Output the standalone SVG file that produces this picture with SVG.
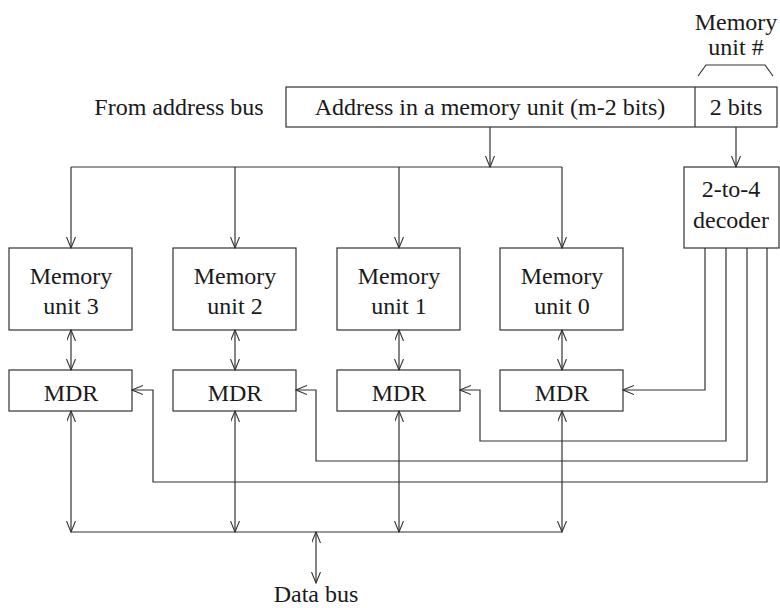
<svg xmlns="http://www.w3.org/2000/svg" width="780" height="608" viewBox="0 0 780 608">
<style>
.box{fill:#fff;stroke:#333;stroke-width:1.2}
.ln{fill:none;stroke:#333;stroke-width:1.2}
.t{font-size:24px;fill:#1a1a1a;text-anchor:middle}
</style>
<defs>
<marker id="ar" markerUnits="userSpaceOnUse" markerWidth="12" markerHeight="10" refX="11" refY="4.5" orient="auto-start-reverse">
<path d="M0,0 L11,4.5 L0,9" fill="none" stroke="#333" stroke-width="1.1"/>
</marker>
</defs>
<rect width="780" height="608" fill="#fff"/>
<g id="label-from">
<text class="t" font-family="Liberation Serif, serif" x="179" y="115">From address bus</text>
</g>
<g id="address">
<rect class="box" x="286" y="87" width="491" height="40"/>
<line class="ln" x1="695" y1="87" x2="695" y2="127"/>
<text class="t" font-family="Liberation Serif, serif" x="490" y="115">Address in a memory unit (m-2 bits)</text>
<text class="t" font-family="Liberation Serif, serif" x="736" y="115">2 bits</text>
</g>
<g id="unitnum">
<text class="t" font-family="Liberation Serif, serif" font-size="23" x="736" y="30">Memory</text>
<text class="t" font-family="Liberation Serif, serif" font-size="23" x="736" y="55">unit #</text>
<path class="ln" d="M698,76 L706,65 L765,65 L773,76"/>
</g>
<g id="decoder">
<rect class="box" x="684" y="167" width="95" height="81"/>
<text class="t" font-family="Liberation Serif, serif" x="731" y="197">2-to-4</text>
<text class="t" font-family="Liberation Serif, serif" x="731" y="228">decoder</text>
</g>
<g id="mu3"><rect class="box" x="9" y="248" width="123" height="82"/><text class="t" font-family="Liberation Serif, serif" x="71" y="284">Memory</text><text class="t" font-family="Liberation Serif, serif" x="71" y="314">unit 3</text></g>
<g id="mu2"><rect class="box" x="173" y="248" width="123" height="82"/><text class="t" font-family="Liberation Serif, serif" x="235" y="284">Memory</text><text class="t" font-family="Liberation Serif, serif" x="235" y="314">unit 2</text></g>
<g id="mu1"><rect class="box" x="337" y="248" width="123" height="82"/><text class="t" font-family="Liberation Serif, serif" x="399" y="284">Memory</text><text class="t" font-family="Liberation Serif, serif" x="399" y="314">unit 1</text></g>
<g id="mu0"><rect class="box" x="500" y="248" width="123" height="82"/><text class="t" font-family="Liberation Serif, serif" x="562" y="284">Memory</text><text class="t" font-family="Liberation Serif, serif" x="562" y="314">unit 0</text></g>
<g id="mdr3"><rect class="box" x="9" y="370" width="123" height="41"/><text class="t" font-family="Liberation Serif, serif" x="71" y="401">MDR</text></g>
<g id="mdr2"><rect class="box" x="173" y="370" width="123" height="41"/><text class="t" font-family="Liberation Serif, serif" x="235" y="401">MDR</text></g>
<g id="mdr1"><rect class="box" x="337" y="370" width="123" height="41"/><text class="t" font-family="Liberation Serif, serif" x="399" y="401">MDR</text></g>
<g id="mdr0"><rect class="box" x="500" y="370" width="123" height="41"/><text class="t" font-family="Liberation Serif, serif" x="562" y="401">MDR</text></g>
<g id="databus-label"><text class="t" font-family="Liberation Serif, serif" x="316" y="602">Data bus</text></g>
<g id="connectors">
<line class="ln" x1="490" y1="127" x2="490" y2="167" marker-end="url(#ar)"/>
<line class="ln" x1="736" y1="127" x2="736" y2="167" marker-end="url(#ar)"/>
<line class="ln" x1="71" y1="167" x2="562" y2="167"/>
<line class="ln" x1="71" y1="167" x2="71" y2="248" marker-end="url(#ar)"/>
<line class="ln" x1="235" y1="167" x2="235" y2="248" marker-end="url(#ar)"/>
<line class="ln" x1="399" y1="167" x2="399" y2="248" marker-end="url(#ar)"/>
<line class="ln" x1="562" y1="167" x2="562" y2="248" marker-end="url(#ar)"/>
<line class="ln" x1="71" y1="330" x2="71" y2="370" marker-start="url(#ar)" marker-end="url(#ar)"/>
<line class="ln" x1="235" y1="330" x2="235" y2="370" marker-start="url(#ar)" marker-end="url(#ar)"/>
<line class="ln" x1="399" y1="330" x2="399" y2="370" marker-start="url(#ar)" marker-end="url(#ar)"/>
<line class="ln" x1="562" y1="330" x2="562" y2="370" marker-start="url(#ar)" marker-end="url(#ar)"/>
<path class="ln" d="M705,248 L705,390 L623,390" marker-end="url(#ar)"/>
<path class="ln" d="M726,248 L726,441 L480,441 L480,390 L460,390" marker-end="url(#ar)"/>
<path class="ln" d="M747,248 L747,461 L316,461 L316,390 L296,390" marker-end="url(#ar)"/>
<path class="ln" d="M767,248 L767,482 L153,482 L153,390 L132,390" marker-end="url(#ar)"/>
<line class="ln" x1="71" y1="411" x2="71" y2="532" marker-start="url(#ar)" marker-end="url(#ar)"/>
<line class="ln" x1="235" y1="411" x2="235" y2="532" marker-start="url(#ar)" marker-end="url(#ar)"/>
<line class="ln" x1="399" y1="411" x2="399" y2="532" marker-start="url(#ar)" marker-end="url(#ar)"/>
<line class="ln" x1="562" y1="411" x2="562" y2="532" marker-start="url(#ar)" marker-end="url(#ar)"/>
<line class="ln" x1="71" y1="532" x2="562" y2="532"/>
<line class="ln" x1="316" y1="532" x2="316" y2="583" marker-start="url(#ar)" marker-end="url(#ar)"/>
</g>
</svg>
